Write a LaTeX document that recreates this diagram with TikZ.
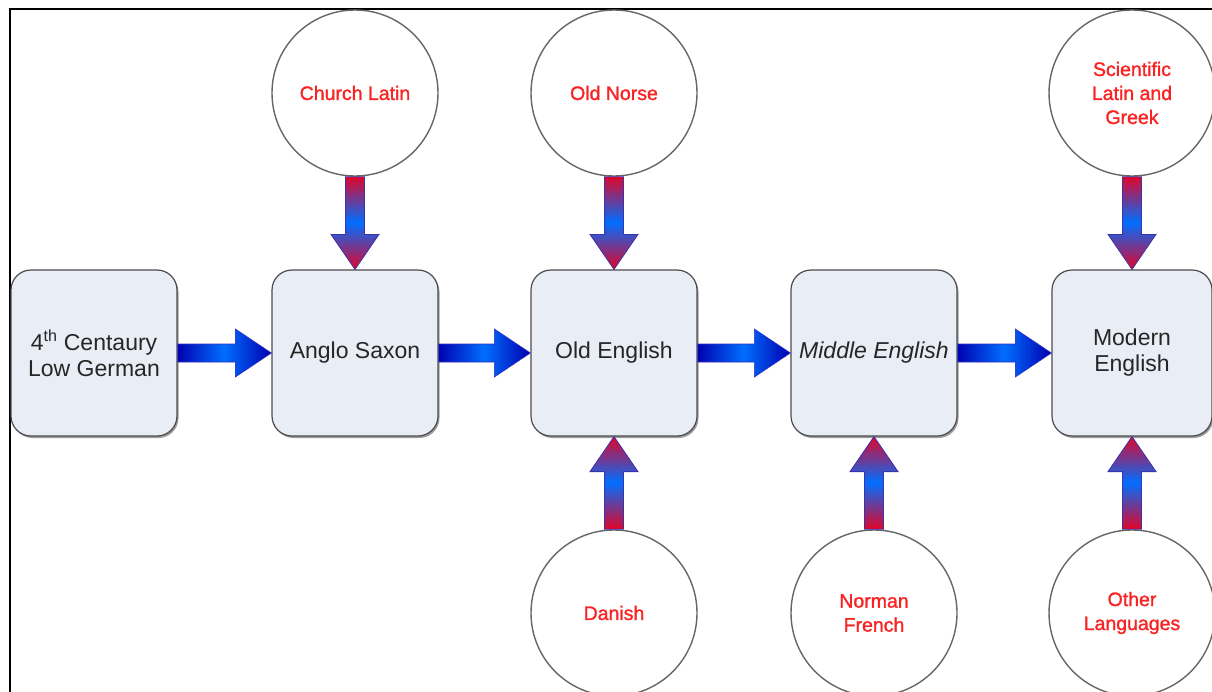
\documentclass[tikz,border=0pt]{standalone}
\usepackage{fontspec}
\setmainfont{Liberation Sans}
\newfontface\srcface{Liberation Sans}[FakeBold=1.3]
\usetikzlibrary{calc,shadows}
\definecolor{boxfill}{RGB}{233,237,246}
\definecolor{srcred}{RGB}{250,35,35}
\definecolor{hdark}{RGB}{0,0,175}
\definecolor{hlight}{RGB}{0,110,255}
\definecolor{vred}{RGB}{225,5,40}
\definecolor{vblue}{RGB}{0,110,255}
\definecolor{vedge}{RGB}{60,50,170}
\newcommand\harr[2]{%
  \draw[harrow] ($(#1.east)+(0,-9)$) -- ($(#2.west)+(-36,-9)$) -- ($(#2.west)+(-36,-24)$)
    -- (#2.west) -- ($(#2.west)+(-36,24)$) -- ($(#2.west)+(-36,9)$) -- ($(#1.east)+(0,9)$) -- cycle;}
\newcommand\darr[2]{%
  \draw[varrow] ($(#1.south)+(-9.5,0)$) -- ($(#2.north)+(-9.5,-35)$) -- ($(#2.north)+(-24,-35)$)
    -- (#2.north) -- ($(#2.north)+(24,-35)$) -- ($(#2.north)+(9.5,-35)$) -- ($(#1.south)+(9.5,0)$) -- cycle;}
\newcommand\uarr[2]{%
  \draw[varrow] ($(#1.north)+(-9.5,0)$) -- ($(#2.south)+(-9.5,35)$) -- ($(#2.south)+(-24,35)$)
    -- (#2.south) -- ($(#2.south)+(24,35)$) -- ($(#2.south)+(9.5,35)$) -- ($(#1.north)+(9.5,0)$) -- cycle;}
\begin{document}
\begin{tikzpicture}[x=1pt,y=-1pt,
  stage/.style={draw=black!70, line width=1.2pt, fill=boxfill, rounded corners=20pt,
    minimum width=166pt, minimum height=166pt, inner sep=2pt, align=center,
    font=\fontsize{23}{26}\selectfont, text=black!85,
    drop shadow={shadow xshift=1.5pt, shadow yshift=-2pt, opacity=0.55, fill=black!70}},
  source/.style={circle, draw=black!60, line width=1.4pt, fill=white, minimum size=166pt,
    inner sep=0pt, align=center, font=\srcface\fontsize{19.5}{24}\selectfont, text=srcred},
  harrow/.style={draw=hdark!80, line width=0.6pt,
    path picture={
      \foreach \i in {0,...,59}{
        \pgfmathsetmacro\a{\i/60}
        \pgfmathsetmacro\b{(\i+1.1)/60}
        \pgfmathsetmacro\m{100*(1-abs(2*(\i+0.5)/60-1))}
        \fill[hlight!\m!hdark]
          ($(path picture bounding box.south west)!\a!(path picture bounding box.south east)$)
          rectangle
          ($(path picture bounding box.north west)!\b!(path picture bounding box.north east)$);
      }}},
  varrow/.style={draw=vedge, line width=0.8pt,
    path picture={
      \foreach \i in {0,...,49}{
        \pgfmathsetmacro\a{\i/50}
        \pgfmathsetmacro\b{(\i+1.1)/50}
        \pgfmathsetmacro\m{100*(1-abs(2*(\i+0.5)/50-1))}
        \fill[vblue!\m!vred]
          ($(path picture bounding box.north west)!\a!(path picture bounding box.south west)$)
          rectangle
          ($(path picture bounding box.north east)!\b!(path picture bounding box.south east)$);
      }}}
]
\fill[white] (0,0) rectangle (1212,691);
\useasboundingbox (0,0) rectangle (1212,691);
\draw[line width=2pt] (10,720) -- (10,9) -- (1240,9);

% stages
\node[stage] (lg) at (94,353) {4\textsuperscript{th} Centaury\\Low German};
\node[stage] (as) at (355,353) {Anglo Saxon};
\node[stage] (oe) at (614,353) {Old English};
\node[stage] (me) at (874,353) {\itshape Middle English};
\node[stage, minimum width=160pt] (mo) at (1132,353) {Modern\\English};

% sources
\node[source] (cl) at (355,93) {Church Latin};
\node[source] (on) at (614,93) {Old Norse};
\node[source] (sl) at (1132,93) {Scientific\\Latin and\\Greek};
\node[source] (da) at (614,613) {Danish};
\node[source] (nf) at (874,613) {Norman\\French};
\node[source] (ol) at (1132,613) {Other\\Languages};

% main chain
\harr{lg}{as}
\harr{as}{oe}
\harr{oe}{me}
\harr{me}{mo}

% influences
\darr{cl}{as}
\darr{on}{oe}
\darr{sl}{mo}
\uarr{da}{oe}
\uarr{nf}{me}
\uarr{ol}{mo}
\end{tikzpicture}
\end{document}
